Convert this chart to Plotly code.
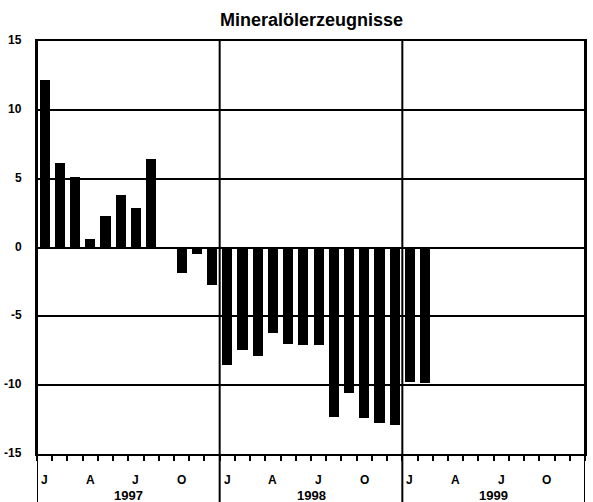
import plotly.graph_objects as go

title = "Mineralölerzeugnisse"
years = ["1997", "1998", "1999"]
month_letters = ["J", "", "", "A", "", "", "J", "", "", "O", "", ""]
# monthly values Jan 1997 .. Feb 1999
values = [12.2, 6.15, 5.15, 0.6, 2.3, 3.8, 2.85, 6.4, -0.1, -1.85, -0.5, -2.7,
          -8.5, -7.45, -7.9, -6.2, -7.0, -7.1, -7.1, -12.3, -10.6, -12.4, -12.75, -12.9,
          -9.8, -9.85]
y_ticks = [15, 10, 5, 0, -5, -10, -15]

n_months = 12 * len(years)
x = [i + 0.5 for i in range(len(values))]

fig = go.Figure()
fig.add_trace(go.Bar(x=x, y=values, width=0.66, marker=dict(color="black", line=dict(width=0)),
                     showlegend=False, hoverinfo="skip"))

FONT = "Liberation Sans, Arial, sans-serif"

fig.update_layout(
    width=593, height=502,
    margin=dict(l=37, r=8, t=41, b=48, autoexpand=False),
    paper_bgcolor="white", plot_bgcolor="white",
    bargap=0,
    font=dict(family=FONT, color="black"),
    xaxis=dict(range=[0, n_months], tickmode="array", tickvals=list(range(n_months + 1)),
               ticks="outside", ticklen=5, tickwidth=2, tickcolor="black",
               showticklabels=False, showgrid=False, zeroline=False, automargin=False,
               showline=True, linecolor="black", linewidth=2, mirror=True),
    yaxis=dict(range=[-15, 15], tickmode="array", tickvals=y_ticks,
               showticklabels=False, ticks="",
               showgrid=True, gridcolor="black", gridwidth=2, automargin=False,
               zeroline=True, zerolinecolor="black", zerolinewidth=2,
               showline=True, linecolor="black", linewidth=2, mirror=True),
)

# year separators extending into the label area
for k in range(len(years) + 1):
    fig.add_shape(type="line", xref="x", yref="paper", x0=12 * k, x1=12 * k, y0=-0.13, y1=1,
                  line=dict(color="black", width=2), layer="below")

annotations = []
# y tick labels
for v in y_ticks:
    annotations.append(dict(x=0, y=v, xref="paper", yref="y", xanchor="right", xshift=-13,
                            yshift=1, text=str(v), showarrow=False,
                            font=dict(family=FONT, size=12, color="black", weight="bold")))
# month letters and years
for yi, yr in enumerate(years):
    for m, letter in enumerate(month_letters):
        if letter:
            annotations.append(dict(x=12 * yi + m + 0.5, y=-0.04, xref="x", yref="paper",
                                    yanchor="top", text=letter, showarrow=False,
                                    font=dict(family=FONT, size=12, color="black", weight="bold")))
    annotations.append(dict(x=12 * yi + 6, y=-0.1, xref="x", yref="paper", text=yr,
                            yanchor="middle", showarrow=False,
                            font=dict(family=FONT, size=13, color="black", weight="bold")))
annotations.append(dict(x=0.5, y=1.0, xref="paper", yref="paper", yanchor="bottom", yshift=9,
                        text=title, showarrow=False,
                        font=dict(family=FONT, size=18, color="black", weight="bold")))
fig.update_layout(annotations=annotations)

fig.write_html("out.html", config={"displayModeBar": False},
               post_script="document.body.style.margin='0';")
